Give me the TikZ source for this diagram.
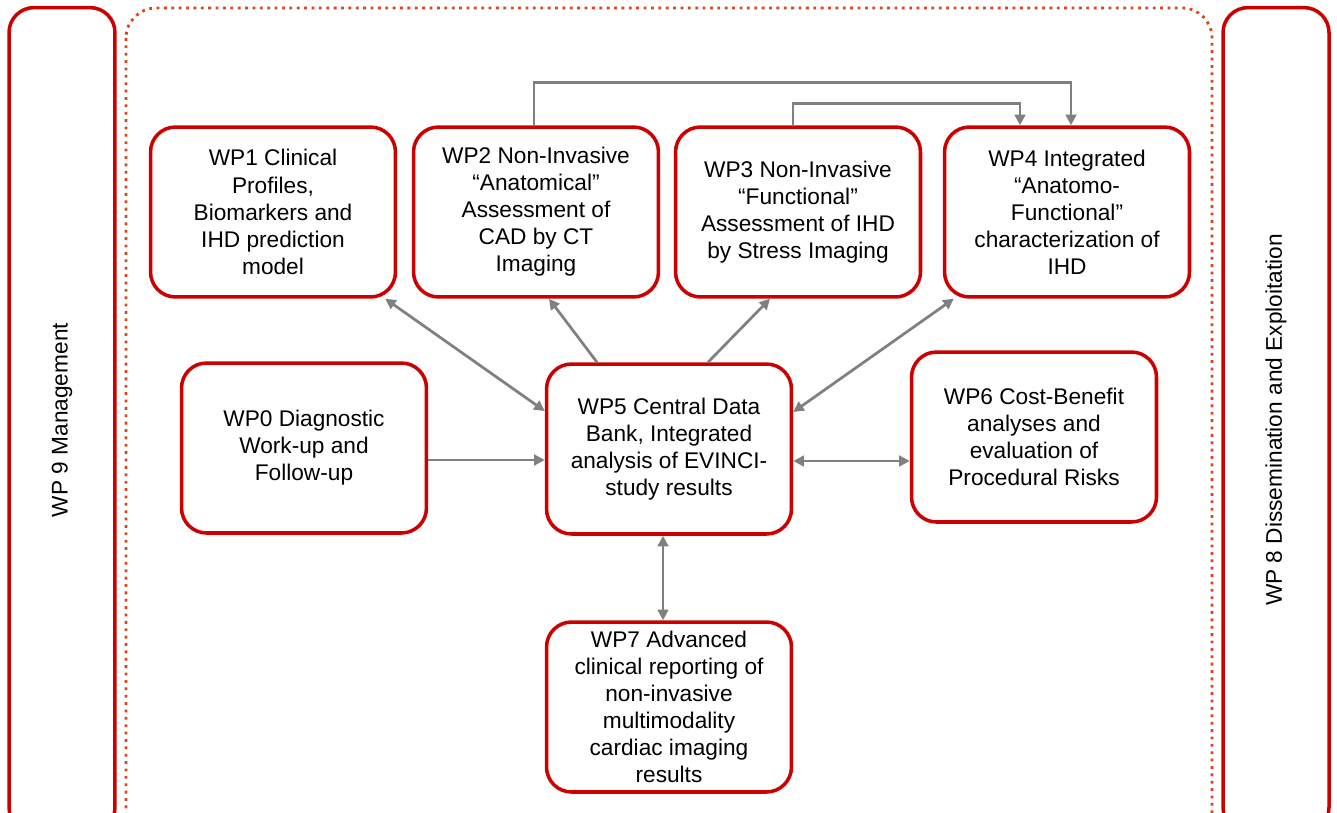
\documentclass[tikz,border=0pt]{standalone}
\usepackage{fontspec}
\setmainfont{Liberation Sans}
\usetikzlibrary{arrows.meta}

\definecolor{wpred}{RGB}{204,0,0}
\definecolor{wpdots}{RGB}{214,72,24}
\definecolor{wpgray}{RGB}{128,128,128}

\tikzset{
  wpbox/.style={draw=wpred, line width=2pt, rounded corners=.5cm, fill=white,
    minimum width=4.9cm, minimum height=3.4cm, align=center, inner sep=1pt,
    font=\fontsize{12.9}{15.4}\selectfont},
  sidebox/.style={draw=wpred, line width=2pt, rounded corners=.5cm,
    minimum width=16.5cm, minimum height=2.12cm, rotate=90,
    font=\fontsize{12.9}{15}\selectfont},
  link/.style={draw=wpgray, line width=.55mm},
  tip/.style={-{Triangle[width=6pt,length=6pt]}},
  tips/.style={{Triangle[width=6pt,length=6pt]}-{Triangle[width=6pt,length=6pt]}}
}

\begin{document}
\begin{tikzpicture}[x=.02cm, y=-.02cm]
  \useasboundingbox (0,0) rectangle (1337,812);
  \clip (0,0) rectangle (1337,812);

  %%frame
  \draw[wpdots, line width=1.6pt, dash pattern=on 1.6pt off 2.6pt, rounded corners=.6cm] (126,8) rectangle (1212,840);
  \node[sidebox] (wp9) at (62,420) {WP 9 Management};
  \node[sidebox] (wp8) at (1276,420) {WP 8 Dissemination and Exploitation};

  %%top row
  \node[wpbox] (wp1) at (273,212) {WP1 Clinical\\Profiles,\\Biomarkers and\\IHD prediction\\model};
  \node[wpbox] (wp2) at (536,212) {WP2 Non-Invasive\\``Anatomical''\\Assessment of\\CAD by CT\\Imaging};
  \node[wpbox] (wp3) at (798,212) {WP3 Non-Invasive\\``Functional''\\Assessment of IHD\\by Stress Imaging};
  \node[wpbox] (wp4) at (1067,212) {WP4 Integrated\\``Anatomo-\\Functional''\\characterization of\\IHD};

  %%middle row
  \node[wpbox] (wp0) at (304,448) {WP0 Diagnostic\\Work-up and\\Follow-up};
  \node[wpbox] (wp5) at (669,449) {WP5 Central Data\\Bank, Integrated\\analysis of EVINCI-\\study results};
  \node[wpbox] (wp6) at (1034,437) {WP6 Cost-Benefit\\analyses and\\evaluation of\\Procedural Risks};

  %%bottom
  \node[wpbox] (wp7) at (669,707) {WP7 Advanced\\clinical reporting of\\non-invasive\\multimodality\\cardiac imaging\\results};

  %%links
  \draw[link, tips] ([xshift=-.24cm]wp1.south east) -- ([yshift=.76cm]wp5.west);
  \draw[link, tip] ([xshift=-1.44cm]wp5.north) -- ([xshift=.26cm]wp2.south);
  \draw[link, tip] ([xshift=.78cm]wp5.north) -- ([xshift=-.56cm]wp3.south);
  \draw[link, tips] ([yshift=.74cm]wp5.east) -- ([xshift=.22cm]wp4.south west);
  \draw[link, tip] ([yshift=-.24cm]wp0.east) coordinate (w0) -- (w0 -| wp5.west);
  \draw[link, tips] ([yshift=-.24cm]wp5.east) coordinate (w5) -- (w5 -| wp6.west);
  \draw[link, tips] ([xshift=-.12cm]wp5.south) coordinate (s5) -- (s5 |- wp7.north);

  %%feedback to wp4
  \draw[link, tip] ([xshift=-.04cm]wp2.north) -- ++(0,-43) -| ([xshift=.08cm]wp4.north);
  \draw[link, tip] ([xshift=-.1cm]wp3.north) -- ++(0,-22) -| ([xshift=-.94cm]wp4.north);

\end{tikzpicture}
\end{document}
